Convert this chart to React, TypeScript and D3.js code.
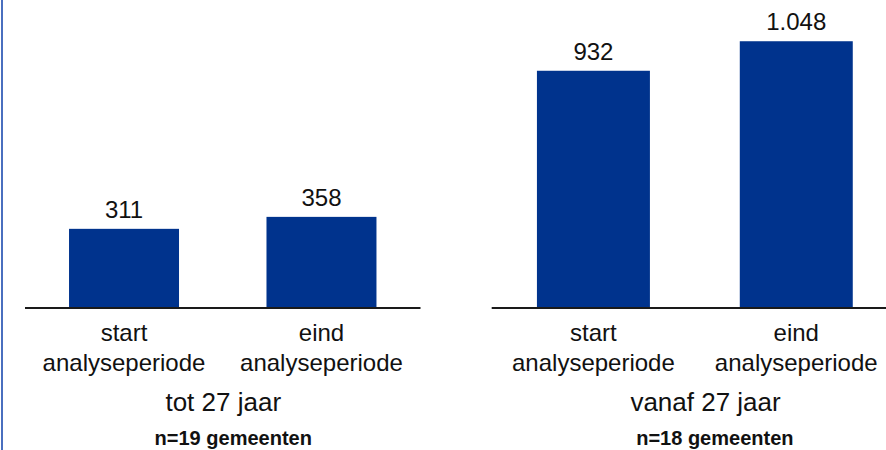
import React from "react";
import * as d3 from "d3";

const categories = ["start|analyseperiode", "eind|analyseperiode"];
const groupTitles = ["tot 27 jaar", "vanaf 27 jaar"];
const groupNotes = ["n=19 gemeenten", "n=18 gemeenten"];
const valuesTot27 = [311, 358];
const valuesVanaf27 = [932, 1048];
const valueLabelsTot27 = ["311", "358"];
const valueLabelsVanaf27 = ["932", "1.048"];

const W = 886;
const H = 450;
const BAR = "#00338D";
const FONT = "'Liberation Sans', Arial, sans-serif";

const panels = [
  { range: [25, 420.5], values: valuesTot27, labels: valueLabelsTot27, title: groupTitles[0], note: groupNotes[0], titleDx: 0.5, noteDx: 10.5 },
  { range: [491.7, 898], values: valuesVanaf27, labels: valueLabelsVanaf27, title: groupTitles[1], note: groupNotes[1], titleDx: 10.7, noteDx: 20 },
];

const y = d3.scaleLinear().domain([0, 1100]).range([308, 28]);

export default function App() {
  return (
    <svg width={W} height={H} style={{ position: "absolute", left: 0, top: 0, background: "#fff" }} fontFamily={FONT}>
      <rect x={0} y={0} width={W} height={H} fill="#fff" />
      <line x1={2} x2={2} y1={0} y2={H} stroke="#4a6fbf" strokeWidth={2} />
      {panels.map((p, pi) => {
        const x = d3.scaleBand<string>().domain(categories).range(p.range as [number, number]).paddingInner(0.443).paddingOuter(0.223);
        const cx = (p.range[0] + p.range[1]) / 2;
        return (
          <g key={pi}>
            {categories.map((c, i) => {
              const bx = x(c)!;
              const bw = x.bandwidth();
              const v = p.values[i];
              const [l1, l2] = c.split("|");
              return (
                <g key={c}>
                  <rect x={bx} y={y(v)} width={bw} height={y(0) - y(v)} fill={BAR} />
                  <text x={bx + bw / 2} y={y(v) - 11} textAnchor="middle" fontSize={24} fill="#111">{p.labels[i]}</text>
                  <text x={bx + bw / 2} y={341} textAnchor="middle" fontSize={24} fill="#111">{l1}</text>
                  <text x={bx + bw / 2} y={370.5} textAnchor="middle" fontSize={24} fill="#111">{l2}</text>
                </g>
              );
            })}
            <line x1={p.range[0]} x2={p.range[1]} y1={y(0)} y2={y(0)} stroke="#1a1a1a" strokeWidth={2} />
            <text x={cx + p.titleDx} y={411} textAnchor="middle" fontSize={26} fill="#111">{p.title}</text>
            <text x={cx + p.noteDx} y={445} textAnchor="middle" fontSize={20} fontWeight="bold" fill="#111">{p.note}</text>
          </g>
        );
      })}
    </svg>
  );
}
